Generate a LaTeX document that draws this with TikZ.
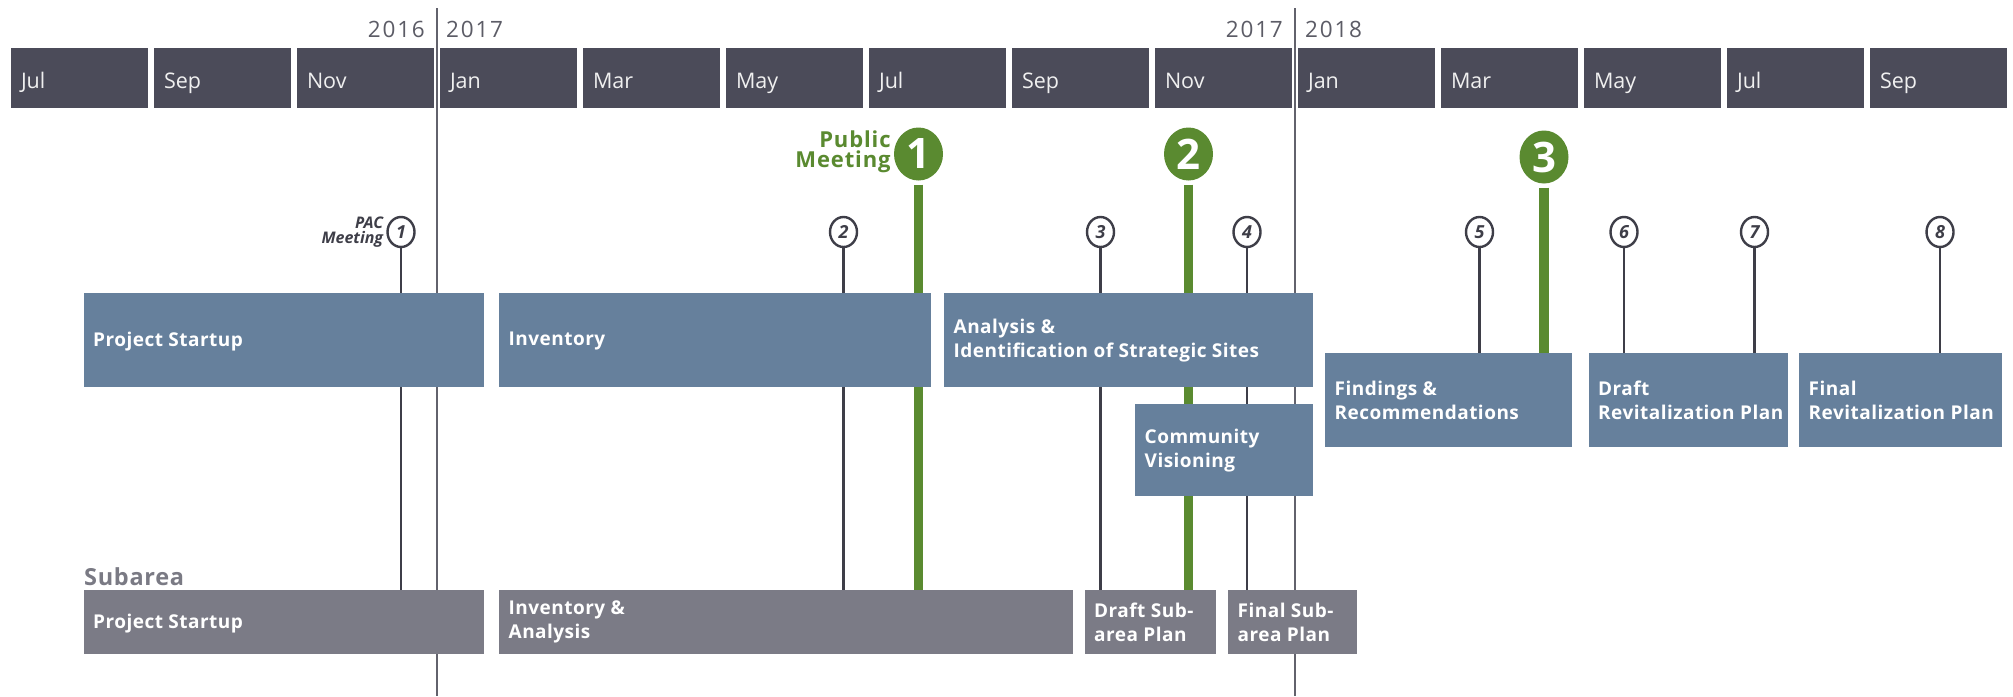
\documentclass[tikz,border=0pt]{standalone}
\usepackage{fontspec}
\setmainfont{Open Sans}
\usetikzlibrary{shapes.geometric}

\definecolor{barcol}{HTML}{4B4B59}
\definecolor{bluebox}{HTML}{66809C}
\definecolor{graybox}{HTML}{7B7B86}
\definecolor{pmgreen}{HTML}{5A8A30}
\definecolor{stemcol}{HTML}{3E3E48}
\definecolor{yearcol}{HTML}{5C5C66}
\definecolor{rulecol}{HTML}{62626C}
\definecolor{subcol}{HTML}{7A7A84}

\begin{document}
\begin{tikzpicture}[x=1pt,y=-1pt,
  month/.style={anchor=north west, fill=barcol, text=white!94!black,
    inner xsep=10.5pt, inner ysep=0pt, text width=116.5pt, align=left,
    text height=20.5pt, text depth=0pt,
    minimum height=60pt, font=\fontsize{21.5}{24}\selectfont},
  yeartext/.style={inner sep=0pt, text=yearcol,
    font=\fontsize{22.5}{24}\selectfont\addfontfeature{LetterSpace=8}},
  yearrule/.style={draw=rulecol, line width=2pt},
  bluephase/.style={anchor=north west, fill=bluebox, inner sep=0pt},
  grayphase/.style={anchor=north west, fill=graybox, inner sep=0pt},
  phasetext/.style={anchor=west, align=left, inner sep=0pt, text=white,
    font=\bfseries\fontsize{19}{24}\selectfont\addfontfeature{LetterSpace=2.5}},
  pac/.style={ellipse, draw=stemcol, line width=2.4pt, fill=white,
    minimum width=27pt, minimum height=30pt, inner sep=0pt, text=stemcol,
    font=\bfseries\itshape\fontsize{18}{18}\selectfont},
  pub/.style={ellipse, fill=pmgreen, minimum width=49pt, minimum height=53pt,
    inner sep=0pt, text=white, font=\bfseries\fontsize{42}{42}\selectfont},
  stem/.style={draw=stemcol, line width=2.4pt},
  gstem/.style={draw=pmgreen, line width=9.5pt}
]
\fill[white] (0,0) rectangle (2013,696);
\useasboundingbox (0,0) rectangle (2013,696);

% year dividers
\coordinate (ya-top) at (436.5,8);
\coordinate (ya-bot) at (436.5,696);
\coordinate (yb-top) at (1294.5,8);
\coordinate (yb-bot) at (1294.5,696);
\draw[yearrule] (ya-top) -- (ya-bot);
\draw[yearrule] (yb-top) -- (yb-bot);

\node[yeartext, anchor=base east] (y2016) at (425,37) {2016};
\node[yeartext, anchor=base west] (y2017a) at (446,37) {2017};
\node[yeartext, anchor=base east] (y2017b) at (1283,37) {2017};
\node[yeartext, anchor=base west] (y2018) at (1305,37) {2018};

% month bar
\foreach \m [count=\i from 0] in {Jul,Sep,Nov,Jan,Mar,May,Jul,Sep,Nov,Jan,Mar,May,Jul,Sep}
  \node[month] (m\i) at ({10.3+143*\i},48) {\m};

% main phases
\node[bluephase, minimum width=400.5pt, minimum height=94pt] (ps) at (83.5,293) {};
\node[bluephase, minimum width=432pt, minimum height=94pt] (inv) at (499,293) {};
\node[bluephase, minimum width=369pt, minimum height=94pt] (ana) at (944,293) {};
\node[bluephase, minimum width=178pt, minimum height=92pt] (com) at (1135,404) {};
\node[bluephase, minimum width=247pt, minimum height=94pt] (find) at (1325,353) {};
\node[bluephase, minimum width=199.5pt, minimum height=94pt] (drev) at (1588.5,353) {};
\node[bluephase, minimum width=203pt, minimum height=94pt] (frev) at (1799,353) {};

\node[phasetext] (ps-t) at ([xshift=9.5pt,yshift=-1pt]ps.west) {Project Startup};
\node[phasetext] (inv-t) at ([xshift=9.5pt,yshift=-1pt]inv.west) {Inventory};
\node[phasetext] (ana-t) at ([xshift=9.5pt]ana.west) {Analysis \&\\Identification of Strategic Sites};
\node[phasetext] (com-t) at ([xshift=9.5pt]com.west) {Community\\Visioning};
\node[phasetext] (find-t) at ([xshift=9.5pt]find.west) {Findings \&\\Recommendations};
\node[phasetext] (drev-t) at ([xshift=9.5pt]drev.west) {Draft\\Revitalization Plan};
\node[phasetext] (frev-t) at ([xshift=9.5pt]frev.west) {Final\\Revitalization Plan};

% subarea phases
\node[anchor=base west, inner sep=0pt, text=subcol,
  font=\bfseries\fontsize{23.5}{24}\selectfont\addfontfeature{LetterSpace=3}] (sub) at (84,585) {Subarea};
\node[grayphase, minimum width=400.5pt, minimum height=64pt] (sps) at (83.5,590) {};
\node[grayphase, minimum width=574pt, minimum height=64pt] (sinv) at (499,590) {};
\node[grayphase, minimum width=131.5pt, minimum height=64pt] (sdraft) at (1084.5,590) {};
\node[grayphase, minimum width=129pt, minimum height=64pt] (sfinal) at (1228,590) {};

\node[phasetext] (sps-t) at ([xshift=9.5pt,yshift=-1pt]sps.west) {Project Startup};
\node[phasetext] (sinv-t) at ([xshift=9.5pt]sinv.west) {Inventory \&\\Analysis};
\node[phasetext] (sdraft-t) at ([xshift=9.5pt]sdraft.west) {Draft Sub-\\area Plan};
\node[phasetext] (sfinal-t) at ([xshift=9.5pt]sfinal.west) {Final Sub-\\area Plan};

% PAC meetings
\node[pac] (c1) at (401,232) {1};
\node[pac] (c2) at (843.5,232) {2};
\node[pac] (c3) at (1100.5,232) {3};
\node[pac] (c4) at (1247,232) {4};
\node[pac] (c5) at (1479.5,232) {5};
\node[pac] (c6) at (1624,232) {6};
\node[pac] (c7) at (1754.5,232) {7};
\node[pac] (c8) at (1940,232) {8};
\node[anchor=east, align=right, inner sep=0pt, text=stemcol,
  font=\bfseries\itshape\fontsize{16}{14.5}\selectfont] (pac-t) at ([xshift=-3pt,yshift=0pt]c1.west) {PAC\\Meeting};

\draw[stem] (c1.south) -- (c1.south |- ps.north);
\draw[stem] (c1.south |- ps.south) -- (c1.south |- sps.north);
\draw[stem] (c2.south) -- (c2.south |- inv.north);
\draw[stem] (c2.south |- inv.south) -- (c2.south |- sinv.north);
\draw[stem] (c3.south) -- (c3.south |- ana.north);
\draw[stem] (c3.south |- ana.south) -- (c3.south |- sdraft.north);
\draw[stem] (c4.south) -- (c4.south |- ana.north);
\draw[stem] (c4.south |- ana.south) -- (c4.south |- com.north);
\draw[stem] (c4.south |- com.south) -- (c4.south |- sfinal.north);
\draw[stem] (c5.south) -- (c5.south |- find.north);
\draw[stem] (c6.south) -- (c6.south |- drev.north);
\draw[stem] (c7.south) -- (c7.south |- drev.north);
\draw[stem] (c8.south) -- (c8.south |- frev.north);

% public meetings
\node[pub] (g1) at (918.5,154) {1};
\node[pub] (g2) at (1188.5,154) {2};
\node[pub] (g3) at (1544,157) {3};
\node[anchor=east, align=right, inner sep=0pt, text=pmgreen,
  font=\bfseries\fontsize{22}{20}\selectfont\addfontfeature{LetterSpace=4}] (pub-t) at ([xshift=-3pt,yshift=2pt]g1.west) {Public\\Meeting};

\draw[gstem] ([yshift=-4pt]g1.south) -- (g1.south |- inv.north);
\draw[gstem] (g1.south |- inv.south) -- (g1.south |- sinv.north);
\draw[gstem] ([yshift=-4pt]g2.south) -- (g2.south |- ana.north);
\draw[gstem] (g2.south |- ana.south) -- (g2.south |- com.north);
\draw[gstem] (g2.south |- com.south) -- (g2.south |- sdraft.north);
\draw[gstem] ([yshift=-4pt]g3.south) -- (g3.south |- find.north);
\end{tikzpicture}
\end{document}
